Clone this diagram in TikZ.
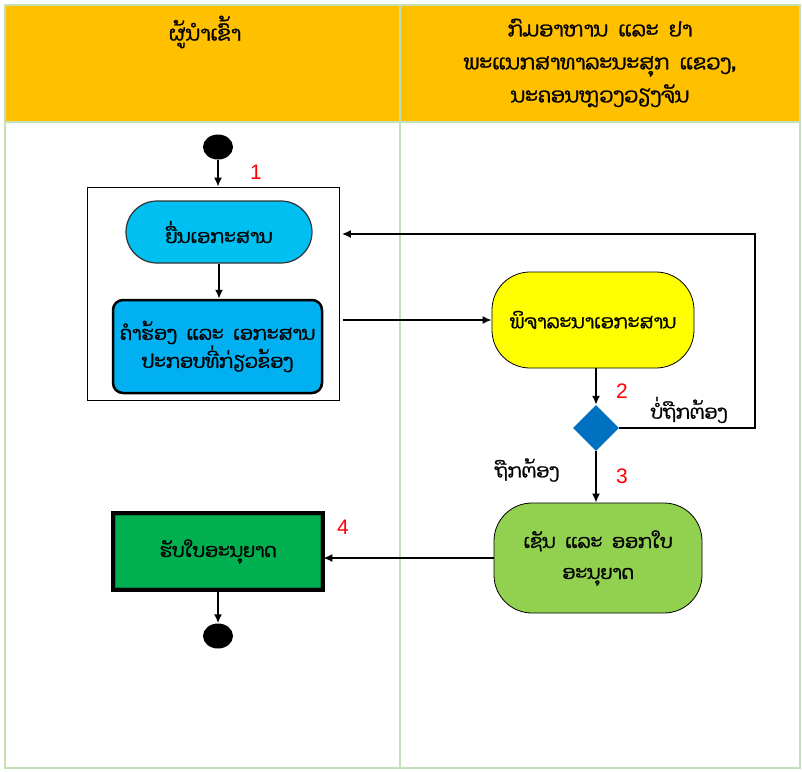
\documentclass[tikz,border=0pt]{standalone}
\usepackage{fontspec}
\setmainfont{Liberation Sans}
\newfontfamily\lao[Script=Lao,FakeBold=1.2]{Dhyana}
\usetikzlibrary{shapes.geometric,arrows.meta}
\definecolor{gridgreen}{RGB}{197,224,180}
\definecolor{headfill}{RGB}{255,192,0}
\definecolor{cyanfill}{RGB}{0,192,242}
\definecolor{bluefill}{RGB}{0,176,240}
\definecolor{yelfill}{RGB}{255,255,0}
\definecolor{diafill}{RGB}{0,112,192}
\definecolor{lgreen}{RGB}{146,208,80}
\definecolor{dgreen}{RGB}{0,176,80}
\definecolor{innergreen}{RGB}{0,130,60}
\newcommand{\gap}{\hspace{0.5em}}
\tikzset{
  arr/.style={-{Latex[length=9pt,width=8pt]}, line width=2.4pt, black},
  dot/.style={ellipse, fill=black, minimum width=30pt, minimum height=25pt, inner sep=0pt},
  grpbox/.style={rectangle, draw=black, line width=0.6pt, fill=white, minimum width=252pt, minimum height=213pt, inner sep=0pt},
  stadbox/.style={rectangle, draw=black!80, line width=1.2pt, fill=cyanfill, rounded corners=31pt, minimum width=186pt, minimum height=62pt, font=\lao\fontsize{19}{28}\selectfont, align=center},
  bluebox/.style={rectangle, draw=black, line width=2.5pt, fill=bluefill, rounded corners=10pt, minimum width=209pt, minimum height=93pt, font=\lao\fontsize{19}{28}\selectfont, align=center},
  yelbox/.style={rectangle, draw=black, line width=0.8pt, fill=yelfill, rounded corners=38pt, minimum width=202pt, minimum height=96pt, font=\lao\fontsize{19}{28}\selectfont, align=center},
  diabox/.style={diamond, fill=diafill, minimum width=46pt, minimum height=46pt, inner sep=0pt},
  grnbox/.style={rectangle, draw=black, line width=0.8pt, fill=lgreen, rounded corners=38pt, minimum width=208pt, minimum height=110pt, font=\lao\fontsize{19}{31}\selectfont, align=center},
  dgrnbox/.style={rectangle, draw=black, line width=4.5pt, fill=dgreen, minimum width=210pt, minimum height=77pt, font=\lao\fontsize{19}{28}\selectfont, align=center},
  headtxt/.style={font=\lao\fontsize{20.5}{33}\selectfont, align=center},
  lbl/.style={font=\lao\fontsize{19}{22}\selectfont},
  num/.style={font=\fontsize{21}{21}\selectfont, text=red}
}
\begin{document}
\begin{tikzpicture}[x=1pt,y=-1pt]
\useasboundingbox (0,0) rectangle (802,771);
% table
\fill[white] (5,5) rectangle (800,768);
\fill[headfill] (5,5) rectangle (800,122);
\draw[gridgreen, line width=2.5pt] (5,5) rectangle (800,768);
\draw[gridgreen, line width=2.5pt] (5,122) -- (800,122);
\draw[gridgreen, line width=2.5pt] (400,5) -- (400,768);
\node[headtxt] (h1) at (205,32) {ຜູ້ນຳເຂົ້າ};
\node[headtxt] (h2) at (600,63) {ກົມອາຫານ\gap ແລະ\gap ຢາ\\ພະແນກສາທາລະນະສຸກ\gap ແຂວງ,\\ນະຄອນຫຼວງວຽງຈັນ};
% nodes
\node[dot] (s) at (218,147) {};
\node[grpbox] (grp) at (213.5,293.5) {};
\node[stadbox] (b1) at (219,232) {ຍື່ນເອກະສານ};
\node[bluebox] (b2) at (217.5,346.5) {ຄຳຮ້ອງ\gap ແລະ\gap ເອກະສານ\\ປະກອບທີ່ກ່ຽວຂ້ອງ};
\node[yelbox] (y) at (593,320) {ພິຈາລະນາເອກະສານ};
\node[diabox] (d) at (596,428) {};
\node[grnbox] (g) at (598,558) {ເຊັນ\gap ແລະ\gap ອອກໃບ\\ອະນຸຍາດ};
\node[dgrnbox] (r) at (218,551.5) {ຮັບໃບອະນຸຍາດ};
\draw[innergreen, line width=0.8pt] ([shift={(5,5)}]r.north west) rectangle ([shift={(-5,-5)}]r.south east);
\node[dot] (e) at (218,636) {};
\coordinate (c1) at (755,234);
% labels
\node[num] (n1) at (256,172) {1};
\node[num] (n2) at (622,391) {2};
\node[num] (n3) at (622,476) {3};
\node[num] (n4) at (343,527) {4};
\node[lbl] (l1) at (689,410) {ບໍ່ຖືກຕ້ອງ};
\node[lbl] (l2) at (527,470) {ຖືກຕ້ອງ};
% connectors
\draw[arr] (s.south) -- (s.south |- grp.north);
\draw[arr] (b1.south) -- (b1.south |- b2.north);
\draw[arr, shorten <=3pt] (grp.east |- y.west) -- (y.west);
\draw[arr] (y.south -| d) -- (d.north);
\draw[arr, line width=2.8pt] (d.east) -| (c1) -- ([xshift=2pt]c1 -| grp.east);
\draw[arr] (d.south) -- (g.north -| d);
\draw[arr] (g.west) -- ([xshift=-2pt]g.west -| r.east);
\draw[arr] (r.south) -- (e.north);
\end{tikzpicture}
\end{document}
